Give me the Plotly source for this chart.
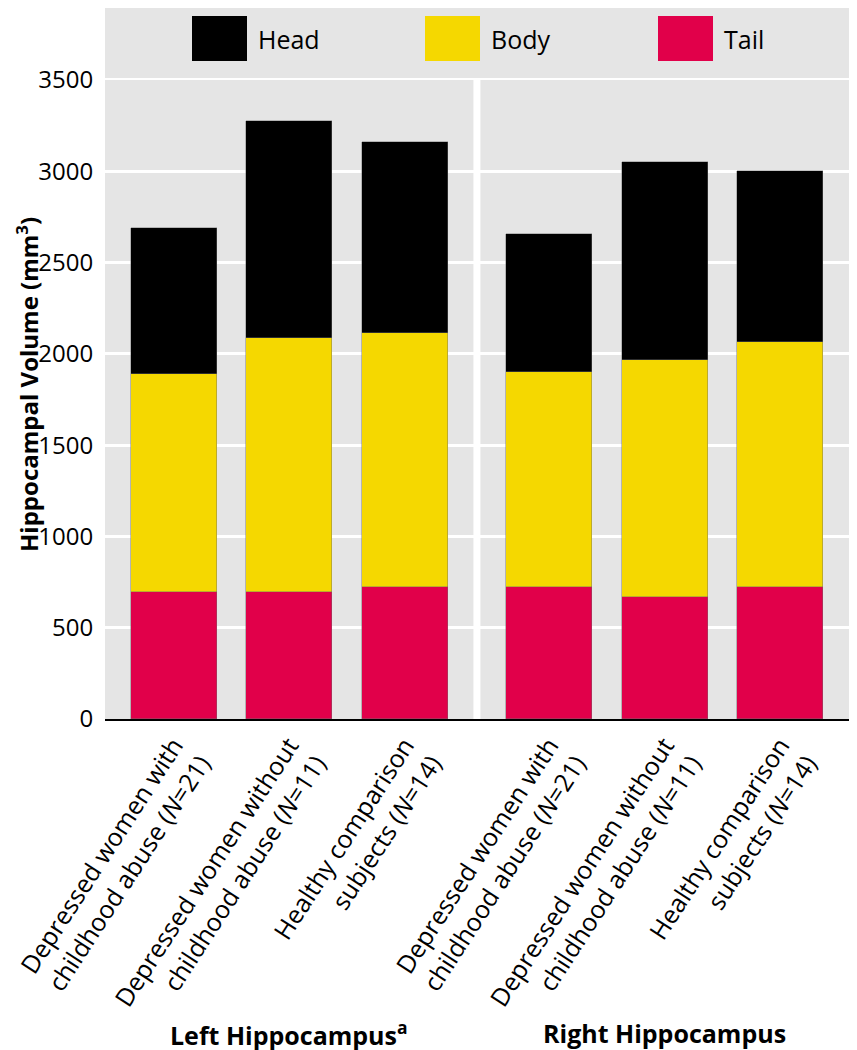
import plotly.graph_objects as go

# ---- data ----
groups = ["Left Hippocampus<sup>a</sup>", "Right Hippocampus"]
subjects = [
    "Depressed women with<br>childhood abuse (<i>N</i>=21)",
    "Depressed women without<br>childhood abuse (<i>N</i>=11)",
    "Healthy comparison<br>subjects (<i>N</i>=14)",
]
tail = [696, 696, 725, 725, 667, 725]
body = [1193, 1390, 1388, 1175, 1300, 1339]
head = [800, 1189, 1050, 758, 1083, 937]
y_ticks = [0, 500, 1000, 1500, 2000, 2500, 3000, 3500]

# ---- layout helpers (page has an 8px body margin) ----
OFF = 8
W, H = 857 - OFF, 1050 - OFF
ML, MR, MT, MB = 105 - OFF, 5, 80 - OFF, 331
PW, PH = W - ML - MR, H - MT - MB
group_gap = 1.25
xpos = []
for g in range(len(groups)):
    for s in range(len(subjects)):
        xpos.append(g * (len(subjects) - 1 + group_gap) + s)
ticktext = subjects * len(groups)

FONT = "Open Sans"
BG = "#e5e5e5"
colors = {"Head": "#000000", "Body": "#f5d800", "Tail": "#e1004a"}

fig = go.Figure()
for name, vals in [("Tail", tail), ("Body", body), ("Head", head)]:
    fig.add_trace(go.Bar(
        x=xpos, y=vals, name=name, width=0.745,
        marker=dict(color=colors[name], line=dict(color="rgba(110,110,110,0.7)", width=0.6)),
        showlegend=False,
    ))

# page-pixel -> paper coordinate helpers
def px_x(p):
    return (p - OFF - ML) / PW

def px_y(p):
    return 1 + (MT + OFF - p) / PH

shapes = []
# top gray legend band
shapes.append(dict(type="rect", xref="paper", yref="paper", x0=0, x1=1,
                   y0=px_y(78), y1=px_y(OFF), fillcolor=BG, line=dict(width=0), layer="below"))
# separator between groups
sep = (xpos[len(subjects) - 1] + xpos[len(subjects)]) / 2
shapes.append(dict(type="line", xref="x", yref="y", x0=sep, x1=sep, y0=0, y1=3500,
                   line=dict(color="white", width=7), layer="below"))

annotations = []
# legend
leg_x = [192, 425, 658]
for (name, lx) in zip(["Head", "Body", "Tail"], leg_x):
    shapes.append(dict(type="rect", xref="paper", yref="paper",
                       x0=px_x(lx), x1=px_x(lx + 55), y0=px_y(61), y1=px_y(16),
                       fillcolor=colors[name], line=dict(width=0)))
    annotations.append(dict(text=name, xref="paper", yref="paper", x=px_x(lx + 64), y=px_y(39),
                            xanchor="left", yanchor="middle", showarrow=False,
                            font=dict(family=FONT, size=25, color="black")))
# group labels
n = len(subjects)
for g, gname in enumerate(groups):
    cx = (xpos[g * n] + xpos[g * n + n - 1]) / 2
    annotations.append(dict(text=gname, xref="x", yref="paper", x=cx, y=px_y(1033),
                            xanchor="center", yanchor="middle", showarrow=False,
                            font=dict(family=FONT, size=25, color="black", weight="bold")))
# y-axis title
annotations.append(dict(text="Hippocampal Volume (mm<sup>3</sup>)", xref="paper", yref="paper",
                        x=px_x(27), y=px_y(385), textangle=-90, showarrow=False,
                        xanchor="center", yanchor="middle",
                        font=dict(family=FONT, size=24, color="black", weight="bold")))

fig.update_layout(
    width=W, height=H,
    margin=dict(l=ML, r=MR, t=MT, b=MB, autoexpand=False),
    paper_bgcolor="white", plot_bgcolor=BG,
    barmode="stack", bargap=0,
    shapes=shapes, annotations=annotations,
    showlegend=False,
    xaxis=dict(range=[-0.595, xpos[-1] + 0.622], tickmode="array", tickvals=xpos, ticktext=ticktext,
               tickangle=-57, showgrid=False, zeroline=False, showline=True,
               linecolor="black", linewidth=2, ticks="", automargin=False,
               tickfont=dict(family=FONT, size=25, color="black")),
    yaxis=dict(range=[0, 3500], tickmode="array", tickvals=y_ticks, showgrid=True,
               gridcolor="white", gridwidth=2.5, zeroline=False, showline=False,
               ticks="outside", ticklen=6, tickcolor="rgba(0,0,0,0)", automargin=False,
               tickfont=dict(family=FONT, size=24, color="black")),
)

fig.write_html("out.html")
